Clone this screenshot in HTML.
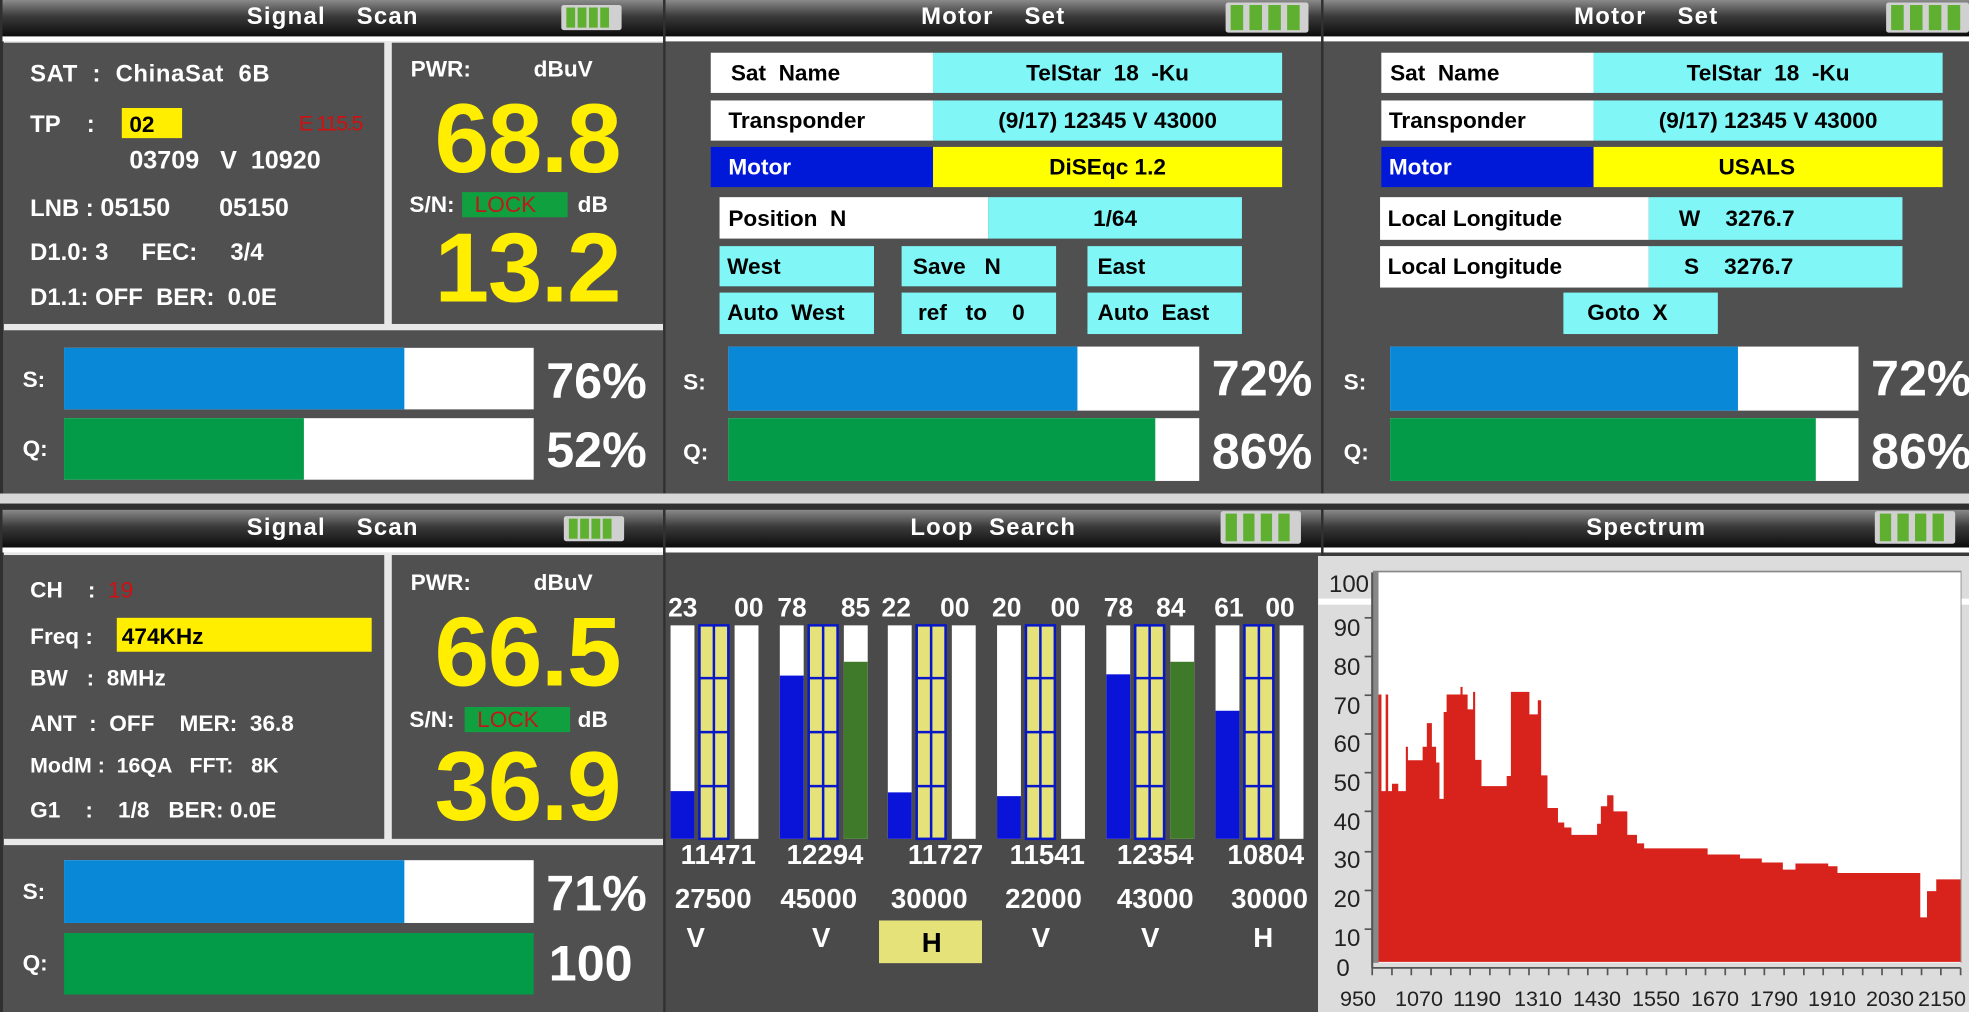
<!DOCTYPE html>
<html><head><meta charset="utf-8"><style>
html,body{margin:0;padding:0;background:#d8d8d8;width:1969px;height:1012px;overflow:hidden}
#c{position:absolute;left:0;top:0;width:1568px;height:806px;transform:scale(1.25574);transform-origin:0 0;font-family:"Liberation Sans",sans-serif;font-weight:bold}
.a{position:absolute}
.p{position:absolute;background:#505050}
.h{position:absolute;height:29px;background:linear-gradient(#8a8a8a,#3a3a3a 45%,#0c0c0c);color:#fff;font-size:19px;letter-spacing:1px;text-align:center;line-height:27px;word-spacing:6px}
.bat{position:absolute;width:48px;height:20px;background:#d0d0d0;border-radius:2px}
.bat i{position:absolute;top:2px;width:7px;height:16px;background:#5fb030}
.t{position:absolute;color:#fff;font-size:18px;line-height:20px;white-space:pre}
.k{color:#000}
.big{position:absolute;color:#ffee00;font-size:78px;line-height:74px;text-align:center;letter-spacing:-1px}
.pct{position:absolute;color:#fff;font-size:40px;line-height:40px}
.cy{background:#80f6f6}
.wh{background:#fff}
</style></head><body>
<div id="c">
<div class="a" style="left:0;top:0;width:1568px;height:393px;background:#303030"></div>
<div class="a" style="left:0;top:401px;width:1568px;height:405px;background:#303030"></div>

<!-- ===== Panel 1 ===== -->
<div class="h" style="left:2px;top:0;width:526px">Signal &nbsp;Scan</div>
<div class="bat" style="left:447px;top:4px"><i style="left:4px"></i><i style="left:13px"></i><i style="left:22px"></i><i style="left:31px"></i></div>
<div class="a wh" style="left:2px;top:29px;width:526px;height:4px"></div>
<div class="p" style="left:3px;top:33px;width:525px;height:360px;background:#e8e8e8"></div>
<div class="p" style="left:3px;top:34px;width:303px;height:224px"></div>
<div class="p" style="left:312px;top:34px;width:216px;height:224px"></div>
<div class="p" style="left:3px;top:263px;width:525px;height:130px"></div>
<div class="t" style="left:24px;top:50px;font-size:19px;letter-spacing:0.5px">SAT &nbsp;: &nbsp;ChinaSat &nbsp;6B</div>
<div class="t" style="left:24px;top:90px;font-size:19px">TP &nbsp;&nbsp;&nbsp;:</div>
<div class="a" style="left:97px;top:86px;width:48px;height:24px;background:#ffee00"></div>
<div class="t k" style="left:103px;top:89px">02</div>
<div class="t" style="left:238px;top:89px;color:#d01010;font-weight:normal;font-size:17px;letter-spacing:-1px">E 115.5</div>
<div class="t" style="left:103px;top:118px;font-size:20px">03709 &nbsp;&nbsp;V &nbsp;10920</div>
<div class="t" style="left:24px;top:156px;font-size:19px">LNB : <span style="font-size:20px">05150 &nbsp;&nbsp;&nbsp;&nbsp;&nbsp;&nbsp;05150</span></div>
<div class="t" style="left:24px;top:192px;font-size:19px">D1.0: 3 &nbsp;&nbsp;&nbsp;&nbsp;FEC: &nbsp;&nbsp;&nbsp;&nbsp;3/4</div>
<div class="t" style="left:24px;top:228px;font-size:19px">D1.1: OFF &nbsp;BER: &nbsp;0.0E</div>
<div class="t" style="left:327px;top:45px">PWR: &nbsp;&nbsp;&nbsp;&nbsp;&nbsp;&nbsp;&nbsp;&nbsp;&nbsp;dBuV</div>
<div class="big" style="left:312px;top:73px;width:216px">68.8</div>
<div class="t" style="left:326px;top:153px">S/N:</div>
<div class="a" style="left:368px;top:153px;width:84px;height:20px;background:#10a040"></div>
<div class="t" style="left:378px;top:153px;color:#c01818;font-weight:normal">LOCK</div>
<div class="t" style="left:460px;top:153px">dB</div>
<div class="big" style="left:312px;top:176px;width:216px">13.2</div>
<div class="t" style="left:18px;top:292px">S:</div>
<div class="a wh" style="left:51px;top:277px;width:374px;height:49px"></div>
<div class="a" style="left:51px;top:277px;width:271px;height:49px;background:#0a88d8"></div>
<div class="pct" style="left:435px;top:284px">76%</div>
<div class="t" style="left:18px;top:347px">Q:</div>
<div class="a wh" style="left:51px;top:333px;width:374px;height:49px"></div>
<div class="a" style="left:51px;top:333px;width:191px;height:49px;background:#039a48"></div>
<div class="pct" style="left:435px;top:339px">52%</div>

<!-- ===== Panel 2 ===== -->
<div class="h" style="left:530px;top:0;width:522px">Motor &nbsp;Set</div>
<div class="bat" style="left:976px;top:2px;height:24px;width:66px"><i style="left:4px;height:20px;width:10px"></i><i style="left:19px;height:20px;width:10px"></i><i style="left:34px;height:20px;width:10px"></i><i style="left:49px;height:20px;width:10px"></i></div>
<div class="a wh" style="left:530px;top:29px;width:522px;height:4px"></div>
<div class="p" style="left:530px;top:33px;width:522px;height:360px"></div>
<div class="a wh" style="left:566px;top:42px;width:177px;height:32px"></div><div class="a cy" style="left:743px;top:42px;width:278px;height:32px"></div>
<div class="t k" style="left:582px;top:48px">Sat &nbsp;Name</div><div class="t k" style="left:743px;top:48px;width:278px;text-align:center">TelStar &nbsp;18 &nbsp;-Ku</div>
<div class="a wh" style="left:566px;top:80px;width:177px;height:32px"></div><div class="a cy" style="left:743px;top:80px;width:278px;height:32px"></div>
<div class="t k" style="left:580px;top:86px">Transponder</div><div class="t k" style="left:743px;top:86px;width:278px;text-align:center">(9/17) 12345 V 43000</div>
<div class="a" style="left:566px;top:117px;width:177px;height:32px;background:#0018d8"></div><div class="a" style="left:743px;top:117px;width:278px;height:32px;background:#ffff00"></div>
<div class="t" style="left:580px;top:123px">Motor</div><div class="t k" style="left:743px;top:123px;width:278px;text-align:center">DiSEqc 1.2</div>
<div class="a wh" style="left:573px;top:157px;width:214px;height:33px"></div><div class="a cy" style="left:787px;top:157px;width:202px;height:33px"></div>
<div class="t k" style="left:580px;top:164px">Position &nbsp;N</div><div class="t k" style="left:787px;top:164px;width:202px;text-align:center">1/64</div>
<div class="a cy" style="left:573px;top:196px;width:123px;height:32px"></div><div class="t k" style="left:579px;top:202px">West</div>
<div class="a cy" style="left:718px;top:196px;width:123px;height:32px"></div><div class="t k" style="left:727px;top:202px">Save &nbsp;&nbsp;N</div>
<div class="a cy" style="left:866px;top:196px;width:123px;height:32px"></div><div class="t k" style="left:874px;top:202px">East</div>
<div class="a cy" style="left:573px;top:233px;width:123px;height:33px"></div><div class="t k" style="left:579px;top:239px">Auto &nbsp;West</div>
<div class="a cy" style="left:718px;top:233px;width:123px;height:33px"></div><div class="t k" style="left:731px;top:239px">ref &nbsp;&nbsp;to &nbsp;&nbsp;&nbsp;0</div>
<div class="a cy" style="left:866px;top:233px;width:123px;height:33px"></div><div class="t k" style="left:874px;top:239px">Auto &nbsp;East</div>
<div class="t" style="left:544px;top:294px">S:</div>
<div class="a wh" style="left:580px;top:276px;width:375px;height:51px"></div>
<div class="a" style="left:580px;top:276px;width:278px;height:51px;background:#0a88d8"></div>
<div class="pct" style="left:965px;top:282px">72%</div>
<div class="t" style="left:544px;top:350px">Q:</div>
<div class="a wh" style="left:580px;top:333px;width:375px;height:50px"></div>
<div class="a" style="left:580px;top:333px;width:340px;height:50px;background:#039a48"></div>
<div class="pct" style="left:965px;top:340px">86%</div>

<!-- ===== Panel 3 ===== -->
<div class="h" style="left:1054px;top:0;width:514px">Motor &nbsp;Set</div>
<div class="bat" style="left:1502px;top:2px;height:24px;width:66px"><i style="left:4px;height:20px;width:10px"></i><i style="left:19px;height:20px;width:10px"></i><i style="left:34px;height:20px;width:10px"></i><i style="left:49px;height:20px;width:10px"></i></div>
<div class="a wh" style="left:1054px;top:29px;width:514px;height:4px"></div>
<div class="p" style="left:1054px;top:33px;width:514px;height:360px"></div>
<div class="a wh" style="left:1100px;top:42px;width:169px;height:32px"></div><div class="a cy" style="left:1269px;top:42px;width:278px;height:32px"></div>
<div class="t k" style="left:1107px;top:48px">Sat &nbsp;Name</div><div class="t k" style="left:1269px;top:48px;width:278px;text-align:center">TelStar &nbsp;18 &nbsp;-Ku</div>
<div class="a wh" style="left:1100px;top:80px;width:169px;height:32px"></div><div class="a cy" style="left:1269px;top:80px;width:278px;height:32px"></div>
<div class="t k" style="left:1106px;top:86px">Transponder</div><div class="t k" style="left:1269px;top:86px;width:278px;text-align:center">(9/17) 12345 V 43000</div>
<div class="a" style="left:1100px;top:117px;width:169px;height:32px;background:#0018d8"></div><div class="a" style="left:1269px;top:117px;width:278px;height:32px;background:#ffff00"></div>
<div class="t" style="left:1106px;top:123px">Motor</div><div class="t k" style="left:1269px;top:123px;width:260px;text-align:center">USALS</div>
<div class="a wh" style="left:1099px;top:157px;width:214px;height:34px"></div><div class="a cy" style="left:1313px;top:157px;width:202px;height:34px"></div>
<div class="t k" style="left:1105px;top:164px">Local Longitude</div><div class="t k" style="left:1337px;top:164px">W &nbsp;&nbsp;&nbsp;3276.7</div>
<div class="a wh" style="left:1099px;top:196px;width:214px;height:33px"></div><div class="a cy" style="left:1313px;top:196px;width:202px;height:33px"></div>
<div class="t k" style="left:1105px;top:202px">Local Longitude</div><div class="t k" style="left:1341px;top:202px">S &nbsp;&nbsp;&nbsp;3276.7</div>
<div class="a cy" style="left:1245px;top:233px;width:123px;height:33px"></div><div class="t k" style="left:1264px;top:239px">Goto &nbsp;X</div>
<div class="t" style="left:1070px;top:294px">S:</div>
<div class="a wh" style="left:1107px;top:276px;width:373px;height:51px"></div>
<div class="a" style="left:1107px;top:276px;width:277px;height:51px;background:#0a88d8"></div>
<div class="pct" style="left:1490px;top:282px">72%</div>
<div class="t" style="left:1070px;top:350px">Q:</div>
<div class="a wh" style="left:1107px;top:333px;width:373px;height:50px"></div>
<div class="a" style="left:1107px;top:333px;width:339px;height:50px;background:#039a48"></div>
<div class="pct" style="left:1490px;top:340px">86%</div>

<!-- ===== Panel 4 ===== -->
<div class="h" style="left:2px;top:406px;width:526px;height:30px;line-height:30px">Signal &nbsp;Scan</div>
<div class="bat" style="left:449px;top:411px"><i style="left:4px"></i><i style="left:13px"></i><i style="left:22px"></i><i style="left:31px"></i></div>
<div class="a wh" style="left:2px;top:436px;width:526px;height:4px"></div>
<div class="p" style="left:3px;top:440px;width:525px;height:366px;background:#e8e8e8"></div>
<div class="p" style="left:3px;top:442px;width:303px;height:226px"></div>
<div class="p" style="left:312px;top:442px;width:216px;height:226px"></div>
<div class="p" style="left:3px;top:673px;width:525px;height:133px"></div>
<div class="t" style="left:24px;top:460px">CH &nbsp;&nbsp;&nbsp;: &nbsp;<span style="color:#d01010;font-weight:normal">19</span></div>
<div class="t" style="left:24px;top:497px">Freq :</div>
<div class="a" style="left:93px;top:492px;width:203px;height:27px;background:#ffee00"></div>
<div class="t k" style="left:97px;top:497px">474KHz</div>
<div class="t" style="left:24px;top:530px">BW &nbsp;&nbsp;: &nbsp;8MHz</div>
<div class="t" style="left:24px;top:566px">ANT &nbsp;: &nbsp;OFF &nbsp;&nbsp;&nbsp;MER: &nbsp;36.8</div>
<div class="t" style="left:24px;top:600px;font-size:17px">ModM : &nbsp;16QA &nbsp;&nbsp;FFT: &nbsp;&nbsp;8K</div>
<div class="t" style="left:24px;top:635px">G1 &nbsp;&nbsp;&nbsp;: &nbsp;&nbsp;&nbsp;1/8 &nbsp;&nbsp;BER: 0.0E</div>
<div class="t" style="left:327px;top:454px">PWR: &nbsp;&nbsp;&nbsp;&nbsp;&nbsp;&nbsp;&nbsp;&nbsp;&nbsp;dBuV</div>
<div class="big" style="left:312px;top:482px;width:216px">66.5</div>
<div class="t" style="left:326px;top:563px">S/N:</div>
<div class="a" style="left:370px;top:563px;width:84px;height:20px;background:#10a040"></div>
<div class="t" style="left:380px;top:563px;color:#c01818;font-weight:normal">LOCK</div>
<div class="t" style="left:460px;top:563px">dB</div>
<div class="big" style="left:312px;top:589px;width:216px">36.9</div>
<div class="t" style="left:18px;top:700px">S:</div>
<div class="a wh" style="left:51px;top:685px;width:374px;height:50px"></div>
<div class="a" style="left:51px;top:685px;width:271px;height:50px;background:#0a88d8"></div>
<div class="pct" style="left:435px;top:692px">71%</div>
<div class="t" style="left:18px;top:757px">Q:</div>
<div class="a" style="left:51px;top:743px;width:374px;height:49px;background:#039a48"></div>
<div class="pct" style="left:437px;top:748px">100</div>

<!-- ===== Panel 5 Loop Search ===== -->
<div class="h" style="left:530px;top:406px;width:522px;height:30px;line-height:30px">Loop Search</div>
<div class="bat" style="left:972px;top:407px;height:26px;width:64px"><i style="left:4px;height:22px;width:9px"></i><i style="left:18px;height:22px;width:9px"></i><i style="left:32px;height:22px;width:9px"></i><i style="left:46px;height:22px;width:9px"></i></div>
<div class="a wh" style="left:530px;top:436px;width:522px;height:4px"></div>
<div class="p" style="left:530px;top:440px;width:522px;height:366px;background:#4a4a4a"></div>
<svg class="a" style="left:530px;top:440px" width="522" height="366" viewBox="530 440 522 366" font-family="Liberation Sans, sans-serif" font-weight="bold" fill="#fff">
<defs>
<g id="lad">
<rect x="23" y="498" width="23" height="170" fill="#e6e27a" stroke="#0818c8" stroke-width="2"/>
<line x1="34.5" y1="498" x2="34.5" y2="668" stroke="#0818c8" stroke-width="2"/>
<line x1="23" y1="540" x2="46" y2="540" stroke="#0818c8" stroke-width="2"/>
<line x1="23" y1="583" x2="46" y2="583" stroke="#0818c8" stroke-width="2"/>
<line x1="23" y1="626" x2="46" y2="626" stroke="#0818c8" stroke-width="2"/>
<rect x="0" y="498" width="19" height="170" fill="#fff"/>
<rect x="51" y="498" width="19" height="170" fill="#fff"/>
</g>
</defs>
<g transform="translate(534 0)"><use href="#lad"/><rect x="0" y="630" width="19" height="38" fill="#0a14d8"/><text x="-2" y="491" font-size="21">23</text><text x="74" y="491" font-size="21" text-anchor="end">00</text><text x="38" y="688" font-size="22" text-anchor="middle">11471</text><text x="34" y="723" font-size="22" text-anchor="middle">27500</text><text x="20" y="754" font-size="22" text-anchor="middle">V</text></g>
<g transform="translate(621 0)"><use href="#lad"/><rect x="0" y="538" width="19" height="130" fill="#0a14d8"/><rect x="51" y="527" width="19" height="141" fill="#3e7a2a"/><text x="-2" y="491" font-size="21">78</text><text x="72" y="491" font-size="21" text-anchor="end">85</text><text x="36" y="688" font-size="22" text-anchor="middle">12294</text><text x="31" y="723" font-size="22" text-anchor="middle">45000</text><text x="33" y="754" font-size="22" text-anchor="middle">V</text></g>
<g transform="translate(707 0)"><use href="#lad"/><rect x="0" y="631" width="19" height="37" fill="#0a14d8"/><rect x="-7" y="733" width="82" height="34" fill="#e6e27a"/><text x="-5" y="491" font-size="21">22</text><text x="65" y="491" font-size="21" text-anchor="end">00</text><text x="46" y="688" font-size="22" text-anchor="middle">11727</text><text x="33" y="723" font-size="22" text-anchor="middle">30000</text><text x="35" y="758" font-size="22" text-anchor="middle" fill="#000">H</text></g>
<g transform="translate(794 0)"><use href="#lad"/><rect x="0" y="634" width="19" height="34" fill="#0a14d8"/><text x="-4" y="491" font-size="21">20</text><text x="66" y="491" font-size="21" text-anchor="end">00</text><text x="40" y="688" font-size="22" text-anchor="middle">11541</text><text x="37" y="723" font-size="22" text-anchor="middle">22000</text><text x="35" y="754" font-size="22" text-anchor="middle">V</text></g>
<g transform="translate(881 0)"><use href="#lad"/><rect x="0" y="537" width="19" height="131" fill="#0a14d8"/><rect x="51" y="527" width="19" height="141" fill="#3e7a2a"/><text x="-2" y="491" font-size="21">78</text><text x="63" y="491" font-size="21" text-anchor="end">84</text><text x="39" y="688" font-size="22" text-anchor="middle">12354</text><text x="39" y="723" font-size="22" text-anchor="middle">43000</text><text x="35" y="754" font-size="22" text-anchor="middle">V</text></g>
<g transform="translate(968 0)"><use href="#lad"/><rect x="0" y="566" width="19" height="102" fill="#0a14d8"/><text x="-1" y="491" font-size="21">61</text><text x="63" y="491" font-size="21" text-anchor="end">00</text><text x="40" y="688" font-size="22" text-anchor="middle">10804</text><text x="43" y="723" font-size="22" text-anchor="middle">30000</text><text x="38" y="754" font-size="22" text-anchor="middle">H</text></g>
</svg>

<!-- ===== Panel 6 header ===== -->
<div class="h" style="left:1054px;top:406px;width:514px;height:30px;line-height:30px">Spectrum</div>
<div class="bat" style="left:1493px;top:407px;height:26px;width:64px"><i style="left:4px;height:22px;width:9px"></i><i style="left:18px;height:22px;width:9px"></i><i style="left:32px;height:22px;width:9px"></i><i style="left:46px;height:22px;width:9px"></i></div>
<div class="a wh" style="left:1054px;top:436px;width:514px;height:4px"></div>
<div class="p" style="left:1054px;top:440px;width:514px;height:366px;background:#3a3a3a"></div>
</div>

<svg class="a" style="position:absolute;left:0;top:0" width="1969" height="1012" viewBox="0 0 1969 1012" font-family="Liberation Sans, sans-serif">
<rect x="1318" y="556" width="651" height="456" fill="#dcdcdc"/>
<g transform="translate(1310 500) scale(0.4203 0.3366)">
<rect x="150" y="210" width="1400" height="1165" fill="#888"/>
<rect x="163" y="215" width="1385" height="1160" fill="#fff"/>
<rect x="20" y="293" width="130" height="18" fill="#fff"/>
<rect x="1550" y="293" width="30" height="18" fill="#fff"/>
<path fill="#d8221c" d="M163 1372 L163 578 L170 578 L170 865 L180 865 L180 578 L186 578 L186 865 L195 865 L195 843 L210 843 L210 865 L228 865 L228 733 L233 733 L233 773 L268 773 L268 733 L278 733 L278 663 L290 663 L290 733 L300 733 L300 780 L308 780 L308 888 L318 888 L318 630 L325 630 L325 578 L358 578 L358 555 L363 555 L363 578 L375 578 L375 622 L388 622 L388 570 L393 570 L393 772 L408 772 L408 850 L468 850 L468 820 L478 820 L478 570 L522 570 L522 637 L542 637 L542 595 L550 595 L550 818 L565 818 L565 915 L590 915 L590 958 L605 958 L605 973 L622 973 L622 995 L683 995 L683 962 L692 962 L692 910 L707 910 L707 877 L722 877 L722 925 L755 925 L755 995 L778 995 L778 1020 L795 1020 L795 1035 L946 1035 L946 1053 L1023 1053 L1023 1065 L1075 1065 L1075 1077 L1125 1077 L1125 1098 L1155 1098 L1155 1080 L1233 1080 L1233 1088 L1255 1088 L1255 1108 L1452 1108 L1452 1240 L1468 1240 L1468 1162 L1490 1162 L1490 1127 L1548 1127 L1548 1372 Z"/>
<g stroke="#555" stroke-width="5">
<line x1="148" y1="1390" x2="1548" y2="1390"/>
<line x1="148" y1="215" x2="148" y2="1390"/>
<line x1="130" y1="350" x2="148" y2="350"/><line x1="130" y1="465" x2="148" y2="465"/><line x1="130" y1="580" x2="148" y2="580"/><line x1="130" y1="695" x2="148" y2="695"/><line x1="130" y1="810" x2="148" y2="810"/><line x1="130" y1="925" x2="148" y2="925"/><line x1="130" y1="1045" x2="148" y2="1045"/><line x1="130" y1="1160" x2="148" y2="1160"/><line x1="130" y1="1275" x2="148" y2="1275"/>
</g>
<path stroke="#555" stroke-width="4" d="M148 1390v22M195 1390v22M241 1390v22M288 1390v22M335 1390v22M381 1390v22M428 1390v22M475 1390v22M521 1390v22M568 1390v22M615 1390v22M661 1390v22M708 1390v22M755 1390v22M801 1390v22M848 1390v22M895 1390v22M941 1390v22M988 1390v22M1035 1390v22M1081 1390v22M1128 1390v22M1175 1390v22M1221 1390v22M1268 1390v22M1315 1390v22M1361 1390v22M1408 1390v22M1455 1390v22M1501 1390v22M1548 1390v22"/>
</g>
<g fill="#222" font-size="24" text-anchor="middle">
<text x="1349" y="592" textLength="40" lengthAdjust="spacingAndGlyphs">100</text>
<text x="1347" y="636">90</text><text x="1347" y="675">80</text><text x="1347" y="714">70</text><text x="1347" y="752">60</text><text x="1347" y="791">50</text><text x="1347" y="830">40</text><text x="1347" y="868">30</text><text x="1347" y="907">20</text><text x="1347" y="946">10</text><text x="1343" y="976">0</text>
</g>
<g fill="#222" font-size="21" text-anchor="middle">
<text x="1358" y="1006" textLength="36" lengthAdjust="spacingAndGlyphs">950</text>
<text x="1419" y="1006" textLength="48" lengthAdjust="spacingAndGlyphs">1070</text>
<text x="1477" y="1006" textLength="48" lengthAdjust="spacingAndGlyphs">1190</text>
<text x="1538" y="1006" textLength="48" lengthAdjust="spacingAndGlyphs">1310</text>
<text x="1597" y="1006" textLength="48" lengthAdjust="spacingAndGlyphs">1430</text>
<text x="1656" y="1006" textLength="48" lengthAdjust="spacingAndGlyphs">1550</text>
<text x="1715" y="1006" textLength="48" lengthAdjust="spacingAndGlyphs">1670</text>
<text x="1774" y="1006" textLength="48" lengthAdjust="spacingAndGlyphs">1790</text>
<text x="1832" y="1006" textLength="48" lengthAdjust="spacingAndGlyphs">1910</text>
<text x="1890" y="1006" textLength="48" lengthAdjust="spacingAndGlyphs">2030</text>
<text x="1942" y="1006" textLength="48" lengthAdjust="spacingAndGlyphs">2150</text>
</g>
</svg>
</body></html>
